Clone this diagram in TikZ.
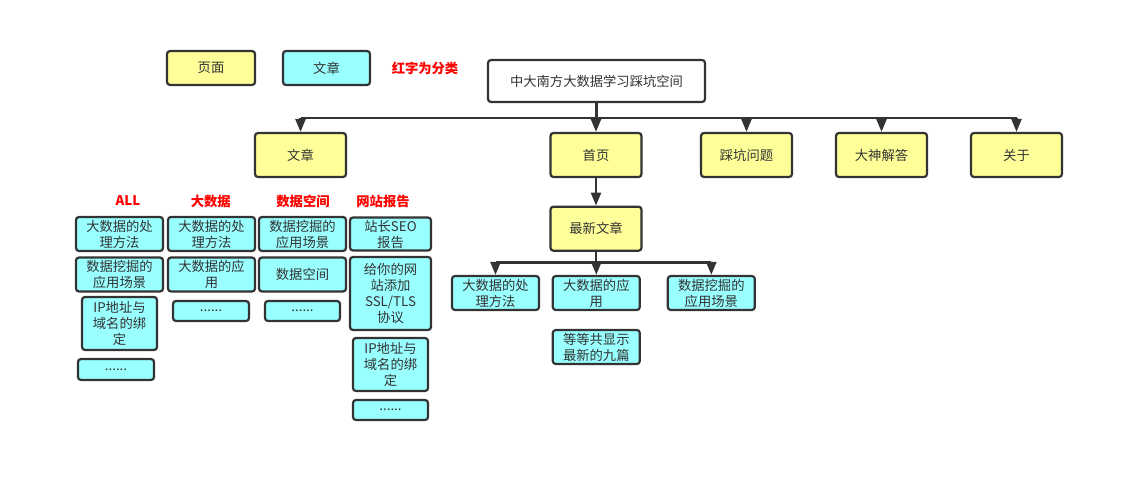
\documentclass[tikz,border=0pt]{standalone}
\usepackage{fontspec}
\setmainfont{Noto Sans CJK SC}
\usetikzlibrary{arrows.meta}
\definecolor{pg}{HTML}{FFFF99}
\definecolor{ar}{HTML}{99FFFF}
\definecolor{ln}{HTML}{333333}
\definecolor{rd}{HTML}{FF0000}
\begin{document}
\begin{tikzpicture}[x=1pt,y=-1pt,
  box/.style={draw=ln, line width=2.2pt, rounded corners=3pt, align=center, text=ln,
    font=\fontsize{13.3}{16}\selectfont, inner sep=0pt},
  pbox/.style={box, fill=pg, minimum width=91pt, minimum height=44pt},
  abox/.style={box, fill=ar, minimum width=87pt, minimum height=34pt},
  hdr/.style={text=rd, font=\fontsize{13.3}{16}\selectfont\bfseries, inner sep=0pt},
  link/.style={draw=ln, line width=2.4pt},
  arr/.style={link, -{Triangle[length=13pt,width=10pt]}}
]
\useasboundingbox (0,0) rectangle (1124,482);
% legend
\node[box, fill=pg, minimum width=88pt, minimum height=34pt] (lp) at (211,68) {页面};
\node[box, fill=ar, minimum width=87pt, minimum height=34pt] (la) at (326.5,68) {文章};
\node[hdr] (lr) at (425,68) {红字为分类};
% title
\node[box, fill=white, minimum width=217pt, minimum height=42pt] (title) at (596.5,81) {中大南方大数据学习踩坑空间};
% top row
\node[pbox] (wz) at (300.5,155) {文章};
\node[pbox] (sy) at (596,155) {首页};
\node[pbox] (ck) at (746.5,155) {踩坑问题};
\node[pbox] (ds) at (881.5,155) {大神解答};
\node[pbox] (gy) at (1016.5,155) {关于};
\coordinate (bus) at (0,118);
\draw[link] (title.south) -- (title.south |- bus);
\draw[link] (bus -| wz.north) -- (bus -| gy.north);
\foreach \n in {wz,sy,ck,ds,gy}{\draw[arr] (bus -| \n.north) -- (\n.north);}
% home
\node[pbox] (zx) at (596,228.7) {最新文章};
\draw[arr] (sy.south) -- (zx.north);
\node[abox] (z1) at (495.5,293) {大数据的处\\理方法};
\node[abox] (z2) at (596.3,293) {大数据的应\\用};
\node[abox] (z3) at (711.3,293) {数据挖掘的\\应用场景};
\node[abox] (z4) at (596.3,347) {等等共显示\\最新的九篇};
\coordinate (bus2) at (0,262.5);
\draw[link] (zx.south) -- (zx.south |- bus2);
\draw[link] (bus2 -| z1.north) -- (bus2 -| z3.north);
\foreach \n in {z1,z2,z3}{\draw[arr] (bus2 -| \n.north) -- (\n.north);}
% category headers
\node[hdr] (h1) at (128,201) {ALL};
\node[hdr] (h2) at (210.7,201) {大数据};
\node[hdr] (h3) at (303,201) {数据空间};
\node[hdr] (h4) at (383,201) {网站报告};
% column 1
\node[abox] (a1) at (119.5,234) {大数据的处\\理方法};
\node[abox] (a2) at (119.5,274.5) {数据挖掘的\\应用场景};
\node[abox, minimum width=75pt, minimum height=53pt] (a3) at (119.5,323.5) {IP地址与\\域名的绑\\定};
\node[abox, minimum width=76pt, minimum height=21pt] (a4) at (116,369.5) {......};
% column 2
\node[abox] (b1) at (211.5,234) {大数据的处\\理方法};
\node[abox] (b2) at (211.5,274.5) {大数据的应\\用};
\node[abox, minimum width=76pt, minimum height=20pt] (b3) at (211,311) {......};
% column 3
\node[abox] (c1) at (302.5,234) {数据挖掘的\\应用场景};
\node[abox] (c2) at (302.5,274.5) {数据空间};
\node[abox, minimum width=75pt, minimum height=20pt] (c3) at (302.5,311) {......};
% column 4
\node[abox, minimum width=81pt, minimum height=33pt] (d1) at (390.5,234) {站长SEO\\报告};
\node[abox, minimum width=81pt, minimum height=73pt] (d2) at (390.5,293.5) {给你的网\\站添加\\SSL/TLS\\协议};
\node[abox, minimum width=75pt, minimum height=53pt] (d3) at (390.5,364.5) {IP地址与\\域名的绑\\定};
\node[abox, minimum width=75pt, minimum height=20pt] (d4) at (390.5,410) {......};
\end{tikzpicture}
\end{document}
